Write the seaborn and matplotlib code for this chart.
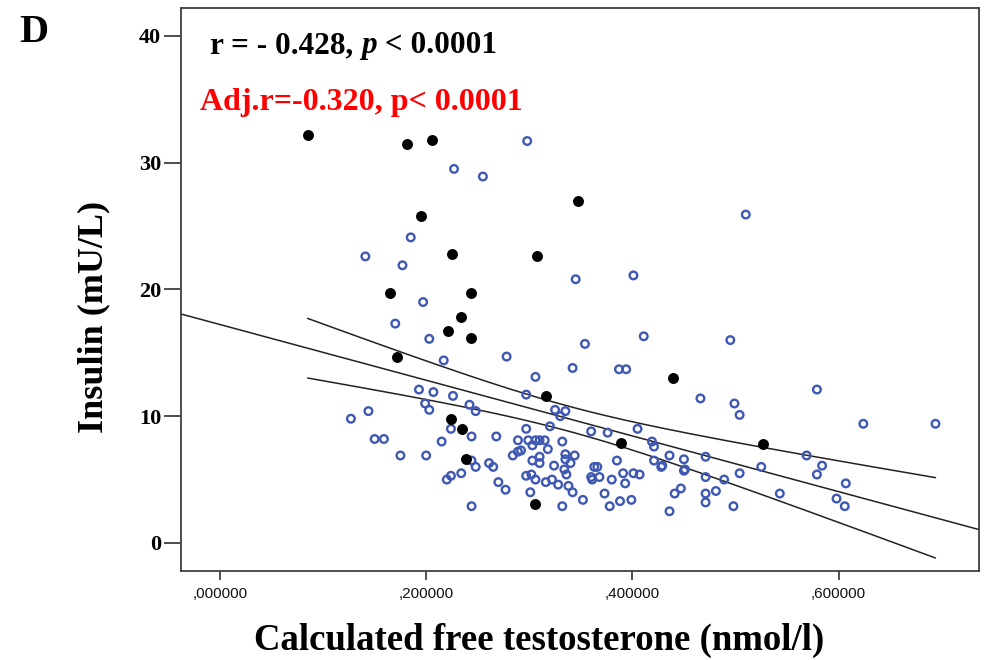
import numpy as np
import pandas as pd
import matplotlib
matplotlib.use("Agg")
import matplotlib.pyplot as plt
from matplotlib.ticker import FuncFormatter
import seaborn as sns

# ---- data ----
black_x = [0.085, 0.181, 0.206, 0.347, 0.195, 0.225, 0.307, 0.165, 0.243, 0.234,
           0.221, 0.243, 0.172, 0.316, 0.439, 0.224, 0.235, 0.239, 0.389, 0.527, 0.306]
black_y = [32.2, 31.5, 31.8, 27.0, 25.8, 22.8, 22.6, 19.7, 19.7, 17.8,
           16.7, 16.2, 14.7, 11.6, 13.0, 9.8, 9.0, 6.6, 7.9, 7.8, 3.1]

blue_x = [0.298, 0.227, 0.255, 0.510, 0.185, 0.141, 0.177, 0.345, 0.401, 0.197,
          0.170, 0.203, 0.354, 0.411, 0.495, 0.278, 0.217, 0.306, 0.342, 0.387,
          0.394, 0.579, 0.193, 0.207, 0.226, 0.297, 0.466, 0.499, 0.504, 0.199,
          0.203, 0.242, 0.248, 0.325, 0.335, 0.330, 0.144, 0.127, 0.224, 0.244,
          0.268, 0.320, 0.297, 0.624, 0.694, 0.360, 0.376, 0.405, 0.150, 0.159,
          0.215, 0.289, 0.299, 0.306, 0.310, 0.315, 0.303, 0.332, 0.419, 0.421,
          0.318, 0.289, 0.292, 0.284, 0.175, 0.200, 0.244, 0.261, 0.265, 0.248,
          0.303, 0.310, 0.310, 0.324, 0.335, 0.344, 0.335, 0.340, 0.334, 0.336,
          0.224, 0.220, 0.234, 0.270, 0.277, 0.297, 0.302, 0.306, 0.316, 0.322,
          0.328, 0.338, 0.342, 0.301, 0.244, 0.332, 0.352, 0.569, 0.584, 0.579,
          0.607, 0.598, 0.606, 0.543, 0.504, 0.525, 0.489, 0.498, 0.471, 0.471,
          0.471, 0.481, 0.471, 0.450, 0.450, 0.451, 0.436, 0.421, 0.429, 0.428,
          0.447, 0.441, 0.436, 0.399, 0.388, 0.378, 0.373, 0.385, 0.391, 0.401,
          0.407, 0.393, 0.380, 0.363, 0.366, 0.360, 0.361, 0.368]
blue_y = [31.7, 29.5, 28.9, 25.9, 24.1, 22.6, 21.9, 20.8, 21.1, 19.0,
          17.3, 16.1, 15.7, 16.3, 16.0, 14.7, 14.4, 13.1, 13.8, 13.7,
          13.7, 12.1, 12.1, 11.9, 11.6, 11.7, 11.4, 11.0, 10.1, 11.0,
          10.5, 10.9, 10.4, 10.5, 10.4, 10.0, 10.4, 9.8, 9.0, 8.4,
          8.4, 9.2, 9.0, 9.4, 9.4, 8.8, 8.7, 9.0, 8.2, 8.2,
          8.0, 8.1, 8.1, 8.1, 8.1, 8.1, 7.7, 8.0, 8.0, 7.6,
          7.4, 7.2, 7.3, 6.9, 6.9, 6.9, 6.5, 6.3, 6.0, 6.0,
          6.5, 6.8, 6.3, 6.1, 7.0, 6.9, 6.6, 6.3, 5.8, 5.4,
          5.3, 5.0, 5.5, 4.8, 4.2, 5.3, 5.4, 5.0, 4.8, 5.0,
          4.6, 4.5, 4.0, 4.0, 2.9, 2.9, 3.4, 6.9, 6.1, 5.4,
          4.7, 3.5, 2.9, 3.9, 5.5, 6.0, 5.0, 2.9, 6.8, 5.2,
          3.9, 4.1, 3.2, 6.6, 5.7, 5.8, 6.9, 6.5, 6.1, 6.0,
          4.3, 3.9, 2.5, 3.4, 3.3, 2.9, 3.9, 6.5, 5.5, 5.5,
          5.4, 4.7, 5.0, 6.0, 6.0, 5.2, 5.0, 5.2]

y_ticks = [0, 10, 20, 30, 40]
x_ticks = [0.0, 0.2, 0.4, 0.6]
label_r_parts = ["r = - 0.428, ", "p", " < 0.0001"]
label_adj = "Adj.r=-0.320, p< 0.0001"

df = pd.DataFrame({
    "x": black_x + blue_x,
    "y": black_y + blue_y,
    "grp": ["black"] * len(black_x) + ["blue"] * len(blue_x),
})

sns.set_theme(style="white")
plt.rcParams["font.family"] = ["Liberation Serif", "DejaVu Serif"]
for k in ["text.color", "axes.labelcolor", "xtick.color", "ytick.color"]:
    plt.rcParams[k] = "black"

W, H = 990, 660
fig = plt.figure(figsize=(W / 100, H / 100), dpi=100)
L, R, T, B = 180.5, 979.0, 7.5, 571.0
ax = fig.add_axes([L / W, 1 - B / H, (R - L) / W, (B - T) / H])
ax.set_xlim(-0.0383, 0.7362)
ax.set_ylim(-2.21, 42.23)

blue_col = "#3f58b3"
sns.scatterplot(data=df[df.grp == "blue"], x="x", y="y", ax=ax, marker="o",
                s=30, linewidth=1.7, color=blue_col, zorder=3, legend=False)
for c in ax.collections:
    c.set_facecolor("none")
    c.set_edgecolor(blue_col)
sns.scatterplot(data=df[df.grp == "black"], x="x", y="y", ax=ax, marker="o",
                s=62, linewidth=0, color="black", zorder=4, legend=False)

# regression fit line across full axis
sns.regplot(data=df, x="x", y="y", ax=ax, scatter=False, ci=None, truncate=False,
            line_kws=dict(color="#222222", lw=1.1, zorder=2))

# 95% CI lines of the mean
xv = df["x"].to_numpy()
yv = df["y"].to_numpy()
n = len(xv)
b1, b0 = np.polyfit(xv, yv, 1)
resid = yv - (b0 + b1 * xv)
s = np.sqrt(np.sum(resid ** 2) / (n - 2))
sxx = np.sum((xv - xv.mean()) ** 2)
xs = np.linspace(xv.min(), xv.max(), 200)
se = s * np.sqrt(1 / n + (xs - xv.mean()) ** 2 / sxx)
yfit = b0 + b1 * xs
tval = 1.976
ax.plot(xs, yfit + tval * se, color="#222222", lw=1.1, zorder=2)
ax.plot(xs, yfit - tval * se, color="#222222", lw=1.1, zorder=2)

# axes styling
for sp in ax.spines.values():
    sp.set_visible(True)
    sp.set_color("#404040")
    sp.set_linewidth(1.3)
ax.set_yticks(y_ticks)
ax.set_xticks(x_ticks)
ax.tick_params(axis="y", direction="out", length=12, width=1.3, color="#404040",
               left=True, pad=2, labelsize=16, labelcolor="black")
ax.tick_params(axis="x", direction="out", length=6.5, width=1.3, color="#404040",
               bottom=True, pad=5, labelcolor="#111111")
for lab in ax.get_yticklabels():
    lab.set_fontweight("bold")
    lab.set_family("Liberation Serif")
ax.xaxis.set_major_formatter(FuncFormatter(lambda v, p: ("%.6f" % v).lstrip("0").replace(".", ",")))
for lab in ax.get_xticklabels():
    lab.set_family("Liberation Sans")
    lab.set_fontsize(11)

ax.set_xlabel("Calculated free testosterone (nmol/l)", fontsize=26.5, fontweight="bold",
              family="Liberation Serif", va="center", color="black")
ax.xaxis.set_label_coords((539 - L) / (R - L), -(640 - B) / (B - T))
ax.set_ylabel("Insulin (mU/L)", fontsize=26, fontweight="bold",
              family="Liberation Serif", va="center", color="black")
ax.yaxis.set_label_coords(-(L - 93.5) / (R - L), (B - 316.5) / (B - T))

fig.text(19 / W, 1 - 42 / H, "D", fontsize=29, fontweight="bold",
         family="Liberation Serif", va="baseline", ha="left")

# first annotation, with italic p, placed piece by piece
renderer = fig.canvas.get_renderer()
xpos = 210.0
for i, part in enumerate(label_r_parts):
    t = fig.text(xpos / W, 1 - 53 / H, part, fontsize=22.5, fontweight="bold",
                 family="Liberation Serif", style="italic" if i == 1 else "normal",
                 va="baseline", ha="left", color="black")
    bb = t.get_window_extent(renderer=renderer)
    xpos += bb.width

fig.text(200 / W, 1 - 110 / H, label_adj, fontsize=23, fontweight="bold",
         family="Liberation Serif", va="baseline", ha="left", color="#ff0000")

fig.savefig("out.png", dpi=100, facecolor="white")
